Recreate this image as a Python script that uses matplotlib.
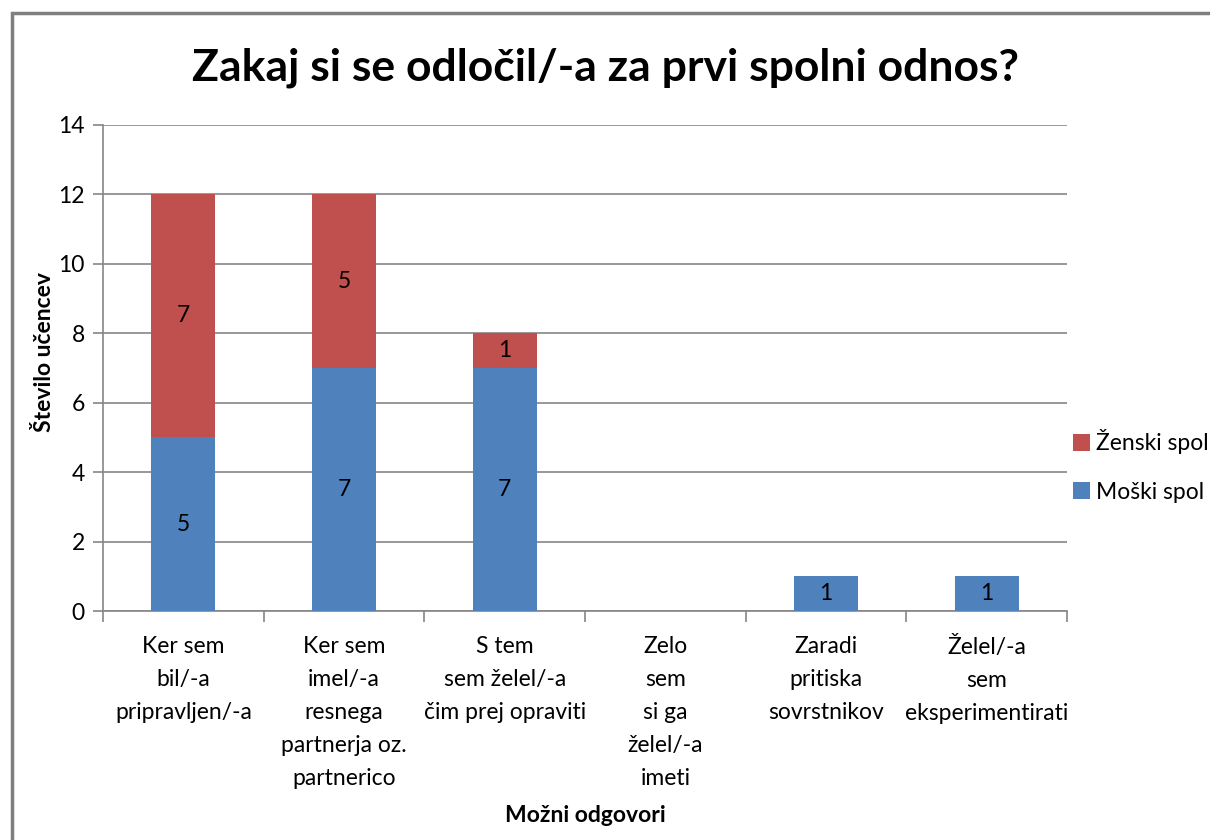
import numpy as np
import matplotlib.pyplot as plt
from matplotlib.patches import Rectangle

plt.rcParams['font.family'] = ['Lato', 'DejaVu Sans']

categories = ["Ker sem\nbil/-a\npripravljen/-a",
              "Ker sem\nimel/-a\nresnega\npartnerja oz.\npartnerico",
              "S tem\nsem želel/-a\nčim prej opraviti",
              "Zelo\nsem\nsi ga\nželel/-a\nimeti",
              "Zaradi\npritiska\nsovrstnikov",
              "Želel/-a\nsem\neksperimentirati"]
moski = [5, 7, 7, 0, 1, 1]
zenski = [7, 5, 1, 0, 0, 0]
yticks = [0, 2, 4, 6, 8, 10, 12, 14]

blue = "#4F81BD"
red = "#C0504D"
grid_col = "#868686"
fs = 16.5

fig = plt.figure(figsize=(12.1, 8.4), dpi=100)
fig.patches.append(Rectangle((12/1210, -0.1), 1.2, 1 - 13/840 + 0.1,
                             transform=fig.transFigure, fill=False,
                             edgecolor="#7f7f7f", linewidth=2.5))
ax = fig.add_axes([103/1210, 1 - 611/840, (1067 - 103)/1210, (611 - 125)/840])

x = np.arange(len(categories))
b1 = ax.bar(x, moski, width=0.4, color=blue, label="Moški spol", zorder=3)
b2 = ax.bar(x, zenski, width=0.4, bottom=moski, color=red, label="Ženski spol", zorder=3)

for i in range(len(x)):
    if moski[i] > 0:
        ax.text(x[i], moski[i] / 2, str(moski[i]), ha="center", va="center", fontsize=fs, zorder=4)
    if zenski[i] > 0:
        ax.text(x[i], moski[i] + zenski[i] / 2, str(zenski[i]), ha="center", va="center", fontsize=fs, zorder=4)

ax.set_xlim(-0.5, len(categories) - 0.5)
ax.set_ylim(0, 14)
ax.set_yticks(yticks)
ax.set_yticklabels([str(v) for v in yticks], fontsize=fs)
ax.yaxis.grid(True, color=grid_col, linewidth=1.2, zorder=0)
ax.set_axisbelow(True)

ax.set_xticks(x)
ax.set_xticklabels(categories, fontsize=fs, linespacing=1.7, va="top")
ax.tick_params(axis="x", length=0, pad=18)
ax.set_xticks(np.arange(-0.5, len(categories)), minor=True)
ax.tick_params(axis="x", which="minor", length=8, color=grid_col, width=1.2)
ax.tick_params(axis="y", length=7, color=grid_col, width=1.2, pad=6)

for s in ["top", "right"]:
    ax.spines[s].set_visible(False)
ax.spines["left"].set_color(grid_col)
ax.spines["bottom"].set_color(grid_col)
ax.spines["left"].set_linewidth(1.2)
ax.spines["bottom"].set_linewidth(1.2)

fig.text(0.5, 1 - 68/840, "Zakaj si se odločil/-a za prvi spolni odnos?",
         ha="center", va="center", fontsize=32, fontweight="bold")
fig.text(45/1210, 1 - 352/840, "Število učencev", rotation=90,
         ha="center", va="center", fontsize=fs, fontweight="bold")
fig.text(585/1210, 1 - 815/840, "Možni odgovori", ha="center", va="center",
         fontsize=fs, fontweight="bold")

handles = [b2, b1]
fig.legend(handles, ["Ženski spol", "Moški spol"], loc="center left",
           bbox_to_anchor=(1073/1210, 1 - 466/840), frameon=False, fontsize=fs,
           borderpad=0, borderaxespad=0,
           handlelength=0.75, handleheight=0.75, handletextpad=0.25, labelspacing=1.2)

fig.savefig("out.png", dpi=100)
